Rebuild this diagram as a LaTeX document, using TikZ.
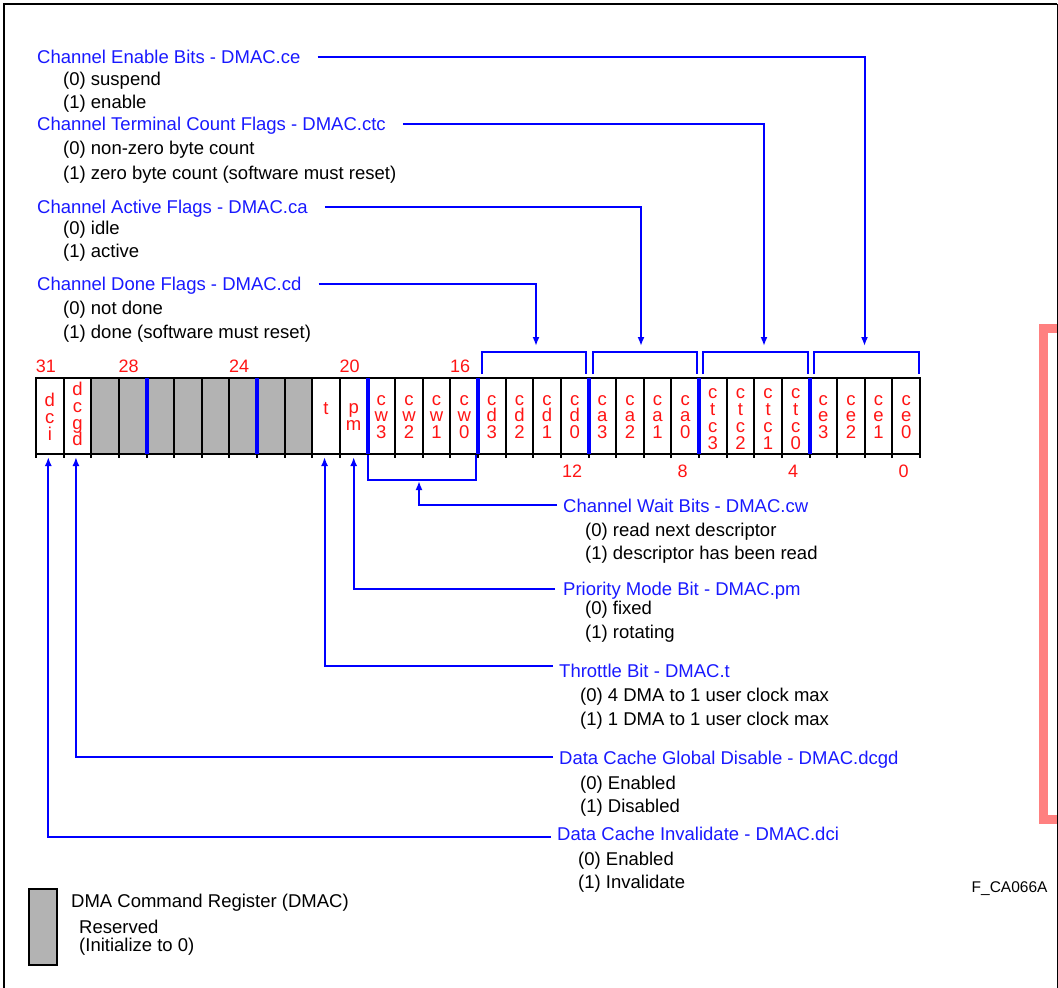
\documentclass[tikz,border=0pt]{standalone}
\usepackage{fontspec}
\setmainfont{Liberation Sans}
\usetikzlibrary{arrows.meta}
\definecolor{tblue}{RGB}{25,25,255}
\definecolor{lblue}{RGB}{0,0,255}
\definecolor{tred}{RGB}{255,20,20}
\definecolor{rgray}{RGB}{179,179,179}
\definecolor{pinkc}{RGB}{255,128,128}
\newcommand\mycellfont{\fontsize{18.5}{16.8}\selectfont\lineskiplimit=-20pt\relax}
\begin{document}
\begin{tikzpicture}[x=1pt,y=-1pt,
  lbl/.style={anchor=west,inner sep=0pt,text height=13pt,text depth=0pt,font=\fontsize{18.5}{22}\selectfont},
  ttl/.style={lbl,text=tblue},
  sub/.style={lbl,text=black},
  cellbox/.style={draw=black,line width=2pt,minimum width=27.625pt,minimum height=76pt,inner sep=0pt,outer sep=0pt},
  celltxt/.style={text=tred,align=center,font=\mycellfont,inner sep=0pt},
  bitnum/.style={text=tred,font=\fontsize{18}{20}\selectfont,inner sep=0pt},
  bline/.style={draw=lblue,line width=2pt},
  barrow/.style={bline,-{Latex[length=9pt,width=7pt]}},
  sepline/.style={draw=lblue,line width=4pt}
]
\useasboundingbox (0,0) rectangle (1058,988);
\clip (0,0) rectangle (1058,988);

% pink bracket
\draw[pinkc,line width=9pt,miter limit=10] (1062,328.5) -- (1043,328.5) -- (1043,819.5) -- (1062,819.5);
% frame
\draw[line width=2pt] (3.7,995) -- (3.7,3.7) -- (1057.3,3.7);
\draw[line width=1.5pt] (1057.3,3.7) -- (1057.3,995);

% register cells
\foreach \n/\t/\f/\y in {
  31/{d\\c\\i}/white/417, 30/{d\\c\\g\\d}/white/414,
  29/{}/rgray/417, 28/{}/rgray/417, 27/{}/rgray/417, 26/{}/rgray/417,
  25/{}/rgray/417, 24/{}/rgray/417, 23/{}/rgray/417, 22/{}/rgray/417,
  21/{t}/white/409, 20/{p\\m}/white/417,
  19/{c\\w\\3}/white/417, 18/{c\\w\\2}/white/417, 17/{c\\w\\1}/white/417, 16/{c\\w\\0}/white/417,
  15/{c\\d\\3}/white/417, 14/{c\\d\\2}/white/417, 13/{c\\d\\1}/white/417, 12/{c\\d\\0}/white/417,
  11/{c\\a\\3}/white/417, 10/{c\\a\\2}/white/417, 9/{c\\a\\1}/white/417, 8/{c\\a\\0}/white/417,
  7/{c\\t\\c\\3}/white/419, 6/{c\\t\\c\\2}/white/419, 5/{c\\t\\c\\1}/white/419, 4/{c\\t\\c\\0}/white/419,
  3/{c\\e\\3}/white/417, 2/{c\\e\\2}/white/417, 1/{c\\e\\1}/white/417, 0/{c\\e\\0}/white/417}
{
  \node[cellbox,fill=\f] (b\n) at ({36+(31.5-\n)*27.625},416) {};
  \node[celltxt] (l\n) at ({36+(31.5-\n)*27.625},\y) {\t};
}
% tick marks below register
\foreach \k in {0,...,32}
  \draw[line width=2pt] ({36+\k*27.625},454) -- ++(0,3.5);
% blue group separators
\foreach \n in {27,23,19,15,11,7,3}
  \draw[sepline] (b\n.north west) -- (b\n.south west);

% bit numbers
\foreach \n in {31,28,24,20,16}
  \node[bitnum] (n\n) at ({36+(31.5-\n)*27.625-4},366) {\n};
\foreach \n in {12,8,4,0}
  \node[bitnum] (n\n) at ({36+(31.5-\n)*27.625-2.5},471.5) {\n};

% top brackets
\draw[bline] (482,374) -- (482,352) -- (586,352) -- (586,374);
\draw[bline] (593,374) -- (593,352) -- (697,352) -- (697,374);
\draw[bline] (703,374) -- (703,352) -- (808,352) -- (808,374);
\draw[bline] (814,374) -- (814,352) -- (919,352) -- (919,374);
\coordinate (acd) at (536,346);
\coordinate (aca) at (641,346);
\coordinate (actc) at (764,346);
\coordinate (ace) at (864.5,346);

% left descriptions
\node[ttl] (tce) at (37,57) {Channel Enable Bits - DMAC.ce};
\node[sub] (ce0) at (63,79) {(0) suspend};
\node[sub] (ce1) at (63,102) {(1) enable};
\node[ttl] (tctc) at (37,124) {Channel Terminal Count Flags - DMAC.ctc};
\node[sub] (ctc0) at (63,148) {(0) non-zero byte count};
\node[sub] (ctc1) at (63,173) {(1) zero byte count (software must reset)};
\node[ttl] (tca) at (37,207) {Channel Active Flags - DMAC.ca};
\node[sub] (ca0) at (63,228) {(0) idle};
\node[sub] (ca1) at (63,251) {(1) active};
\node[ttl] (tcd) at (37,284) {Channel Done Flags - DMAC.cd};
\node[sub] (cd0) at (63,308) {(0) not done};
\node[sub] (cd1) at (63,332) {(1) done (software must reset)};

\draw[barrow] ([xshift=17pt]tce.east) -| (ace);
\draw[barrow] ([xshift=17pt]tctc.east) -| (actc);
\draw[barrow] ([xshift=17pt]tca.east) -| (aca);
\draw[barrow] ([xshift=17pt]tcd.east) -| (acd);

% right descriptions
\node[ttl] (tcw) at (563,506) {Channel Wait Bits - DMAC.cw};
\node[sub] (cw0) at (585,530) {(0) read next descriptor};
\node[sub] (cw1) at (585,553) {(1) descriptor has been read};
\node[ttl] (tpm) at (563,589) {Priority Mode Bit - DMAC.pm};
\node[sub] (pm0) at (585,608) {(0) fixed};
\node[sub] (pm1) at (585,632) {(1) rotating};
\node[ttl] (tt) at (559,671) {Throttle Bit - DMAC.t};
\node[sub] (t0) at (580,695) {(0) 4 DMA to 1 user clock max};
\node[sub] (t1) at (580,719) {(1) 1 DMA to 1 user clock max};
\node[ttl] (tdcgd) at (559,758) {Data Cache Global Disable - DMAC.dcgd};
\node[sub] (dcgd0) at (580,783) {(0) Enabled};
\node[sub] (dcgd1) at (580,806) {(1) Disabled};
\node[ttl] (tdci) at (557,834) {Data Cache Invalidate - DMAC.dci};
\node[sub] (dci0) at (578,859) {(0) Enabled};
\node[sub] (dci1) at (578,882) {(1) Invalidate};

% cw bracket
\draw[bline] (367.5,455) -- (367.5,480) -- (476,480) -- (476,455);
\coordinate (acw) at (419,481);
\draw[barrow] ([xshift=-6pt,yshift=1pt]tcw.west) -| (acw);
\draw[barrow] ([xshift=-8pt]tpm.west) -| ([yshift=-3pt]b20.south);
\draw[barrow] ([xshift=-6pt,yshift=5pt]tt.west) -| ([xshift=-1.5pt,yshift=-3pt]b21.south);
\draw[barrow] ([xshift=-6pt,yshift=1pt]tdcgd.west) -| ([xshift=-1.5pt,yshift=-3pt]b30.south);
\draw[barrow] ([xshift=-6pt,yshift=-3pt]tdci.west) -| ([xshift=-1.5pt,yshift=-3pt]b31.south);

% legend
\node[draw=black,line width=2pt,fill=rgray,minimum width=28pt,minimum height=76pt,inner sep=0pt] (leg) at (42.5,927) {};
\node[sub] (legt) at (71,901) {DMA Command Register (DMAC)};
\node[sub] (legr) at (79,926.5) {Reserved};
\node[sub] (legi) at (79,945) {(Initialize to 0)};

% figure id
\node[lbl,font=\fontsize{15.5}{18}\selectfont,text height=11pt] (fid) at (971.5,887) {F\_CA066A};
\end{tikzpicture}
\end{document}
